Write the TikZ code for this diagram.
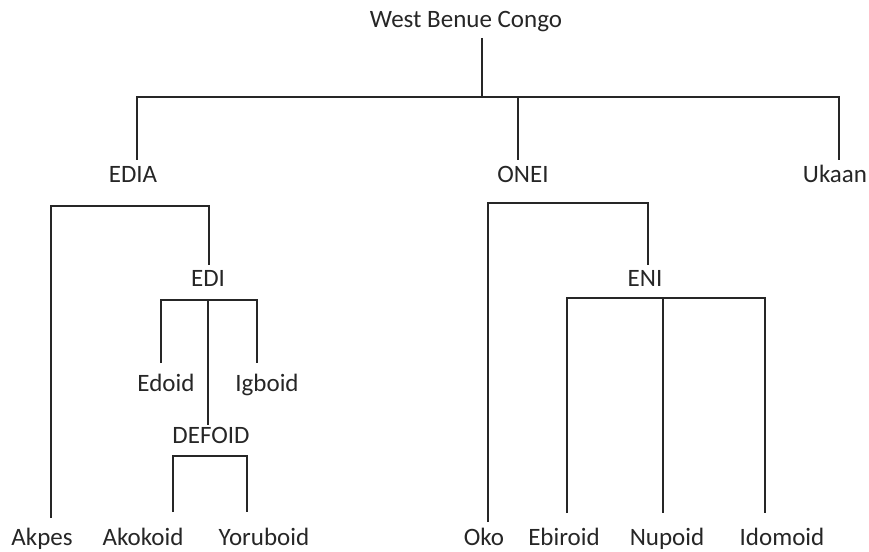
\documentclass[tikz,border=0pt]{standalone}
\usepackage{fontspec}
\setmainfont{Carlito}
\begin{document}
\begin{tikzpicture}[x=1bp,y=-1bp,
  lbl/.style={font=\fontsize{25bp}{29bp}\selectfont, inner sep=0pt, anchor=base, text=black!85},
  br/.style={line width=1.4bp, draw=black!85}]
\useasboundingbox (0,0) rectangle (869,552);

% labels
\node[lbl] (wbc) at (466,28) {West Benue Congo};
\node[lbl] (edia) at (133,183) {EDIA};
\node[lbl] (onei) at (523,183) {ONEI};
\node[lbl] (ukaan) at (835,183) {Ukaan};
\node[lbl] (edi) at (208,287) {EDI};
\node[lbl] (eni) at (645,287) {ENI};
\node[lbl] (edoid) at (166,391) {Edoid};
\node[lbl] (igboid) at (267,391) {Igboid};
\node[lbl] (defoid) at (211,443) {DEFOID};
\node[lbl] (akpes) at (42,545) {Akpes};
\node[lbl] (akokoid) at (143,545) {Akokoid};
\node[lbl] (yoruboid) at (264,545) {Yoruboid};
\node[lbl] (oko) at (484,545) {Oko};
\node[lbl] (ebiroid) at (564,545) {Ebiroid};
\node[lbl] (nupoid) at (667,545) {Nupoid};
\node[lbl] (idomoid) at (782,545) {Idomoid};

% connector end points
\coordinate (wbcD) at (482,38);
\coordinate (rootJ) at (482,97);
\coordinate (ediaU) at (137,160);
\coordinate (oneiU) at (518,160);
\coordinate (ukaanU) at (839,160);

\coordinate (ediaJ) at (209,206);
\coordinate (akpesU) at (51,518);
\coordinate (ediU) at (209,265);

\coordinate (ediJ) at (208,300);
\coordinate (edoidU) at (161,363);
\coordinate (igboidU) at (257,363);
\coordinate (defoidU) at (208,425);

\coordinate (defoidJ) at (173,456);
\coordinate (akokoidU) at (173,512);
\coordinate (yoruboidU) at (247,512);

\coordinate (oneiJ) at (648,203);
\coordinate (okoU) at (488,522);
\coordinate (eniU) at (648,265);

\coordinate (eniJ) at (663,298);
\coordinate (ebiroidU) at (567,513);
\coordinate (nupoidU) at (663,513);
\coordinate (idomoidU) at (765,513);

% West Benue Congo
\draw[br] (wbcD) -- (rootJ);
\draw[br] (ediaU) |- (ukaanU |- rootJ) -- (ukaanU);
\draw[br] (oneiU |- rootJ) -- (oneiU);

% EDIA
\draw[br] (akpesU) |- (ediaJ) -- (ediU);

% EDI
\draw[br] (edoidU) |- (ediJ) -| (igboidU);
\draw[br] (ediJ) -- (defoidU);

% DEFOID
\draw[br] (akokoidU) |- (defoidJ) -| (yoruboidU);

% ONEI
\draw[br] (okoU) |- (oneiJ) -- (eniU);

% ENI
\draw[br] (ebiroidU) |- (eniJ) -| (idomoidU);
\draw[br] (eniJ) -- (nupoidU);
\end{tikzpicture}
\end{document}
